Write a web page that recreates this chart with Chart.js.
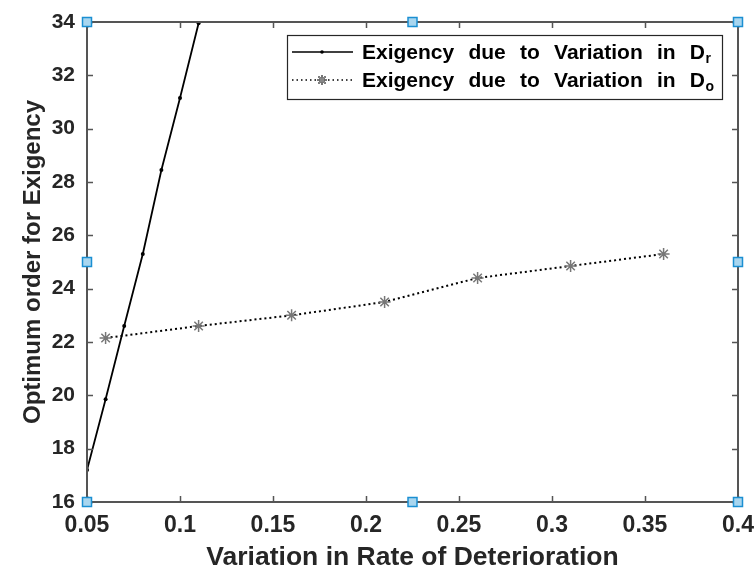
<!DOCTYPE html>
<html>
<head>
<meta charset="utf-8">
<script src="https://cdn.jsdelivr.net/npm/chart.js@4.4.1/dist/chart.umd.min.js"></script>
<style>
  body { margin: 0; background: #fff; }
  canvas { display: block; }
</style>
</head>
<body>
<canvas id="graphCanvas" width="755" height="570"></canvas>
<script>
// data
var xRate = [0.05, 0.06, 0.07, 0.08, 0.09, 0.10, 0.11];
var orderRate = [17.2, 19.85, 22.6, 25.3, 28.45, 31.15, 33.95];
var xOrdering = [0.06, 0.11, 0.16, 0.21, 0.26, 0.31, 0.36];
var orderOrdering = [22.15, 22.6, 23.0, 23.5, 24.4, 24.85, 25.3];

var xTicks = [0.05, 0.1, 0.15, 0.2, 0.25, 0.3, 0.35, 0.4];
var xTickLabels = ['0.05', '0.1', '0.15', '0.2', '0.25', '0.3', '0.35', '0.4'];
var yTicks = [16, 18, 20, 22, 24, 26, 28, 30, 32, 34];
var yTickLabels = ['16', '18', '20', '22', '24', '26', '28', '30', '32', '34'];

var legendText = ['Exigency due to Variation in D', 'Exigency due to Variation in D'];
var legendSub = ['r', 'o'];

var FONT = "'Liberation Sans', Arial, sans-serif";
var TXT = '#262626';
var AXIS = '#555555';

function toPoints(xs, ys) {
    var pts = [];
    for (var i in xs) {
        pts.push({x: xs[i], y: ys[i]});
    }
    return pts;
}

////////////////// box, inner ticks, selection handles, legend //////////////////
var framePlugin = {
    id: 'frame',
    afterDraw: function (chart) {
        var ctx = chart.ctx;
        var a = chart.chartArea;
        var xs = chart.scales.x, ys = chart.scales.y;
        ctx.save();
        ctx.strokeStyle = AXIS;
        ctx.lineWidth = 2;
        ctx.strokeRect(a.left, a.top, a.right - a.left, a.bottom - a.top);
        ctx.lineWidth = 1.5;
        ctx.beginPath();
        xTicks.forEach(function (v) {
            var px = Math.round(xs.getPixelForValue(v)) + 0.5;
            ctx.moveTo(px, a.bottom); ctx.lineTo(px, a.bottom - 6);
            ctx.moveTo(px, a.top); ctx.lineTo(px, a.top + 6);
        });
        yTicks.forEach(function (v) {
            var py = Math.round(ys.getPixelForValue(v)) + 0.5;
            ctx.moveTo(a.left, py); ctx.lineTo(a.left + 6, py);
            ctx.moveTo(a.right, py); ctx.lineTo(a.right - 6, py);
        });
        ctx.stroke();

        // legend
        var lx = 287, ly = 35, lw = 435, lh = 64;
        ctx.fillStyle = '#fff';
        ctx.fillRect(lx, ly, lw, lh);
        ctx.strokeStyle = TXT;
        ctx.lineWidth = 1.2;
        ctx.strokeRect(lx + 0.5, ly + 0.5, lw, lh);
        var rows = [52, 80];
        for (var r = 0; r < 2; r++) {
            var yy = rows[r];
            ctx.strokeStyle = '#000';
            ctx.lineWidth = 1.6;
            ctx.setLineDash(r === 0 ? [] : [1.5, 3]);
            ctx.beginPath();
            ctx.moveTo(292, yy); ctx.lineTo(353, yy);
            ctx.stroke();
            ctx.setLineDash([]);
            if (r === 0) {
                ctx.fillStyle = '#000';
                ctx.beginPath(); ctx.arc(322, yy, 1.8, 0, Math.PI * 2); ctx.fill();
            } else {
                Chart.helpers.drawPoint(ctx, {pointStyle: 'star', radius: 5, borderWidth: 1.5}, 322, yy);
                ctx.strokeStyle = '#888';
                ctx.stroke();
            }
            // justified words
            ctx.fillStyle = '#000';
            ctx.font = 'bold 21px ' + FONT;
            ctx.textBaseline = 'alphabetic';
            ctx.textAlign = 'left';
            var words = legendText[r].split(' ');
            var total = 0;
            words.forEach(function (w) { total += ctx.measureText(w).width; });
            var gap = (343 - total) / (words.length - 1);
            var cx = 362;
            words.forEach(function (w) {
                ctx.fillText(w, cx, yy + 7);
                cx += ctx.measureText(w).width + gap;
            });
            cx -= gap;
            ctx.font = 'bold 14px ' + FONT;
            ctx.fillText(legendSub[r], cx + 0.5, yy + 11);
        }

        // blue selection handles
        var mx = (a.left + a.right) / 2, my = (a.top + a.bottom) / 2;
        var handles = [[a.left, a.top], [mx, a.top], [a.right, a.top], [a.left, my],
                       [a.right, my], [a.left, a.bottom], [mx, a.bottom], [a.right, a.bottom]];
        handles.forEach(function (h) {
            ctx.fillStyle = '#a9d6ef';
            ctx.fillRect(h[0] - 4.5, h[1] - 4.5, 9, 9);
            ctx.strokeStyle = '#1b8fd2';
            ctx.lineWidth = 1.5;
            ctx.strokeRect(h[0] - 4.5, h[1] - 4.5, 9, 9);
        });
        ctx.restore();
    }
};

var chartdata = {
    datasets: [
        {
            label: 'Exigency due to Variation in Dr',
            data: toPoints(xRate, orderRate),
            showLine: true,
            borderColor: '#000',
            borderWidth: 1.8,
            pointStyle: 'circle',
            pointRadius: 2,
            pointBackgroundColor: '#000',
            pointBorderWidth: 0
        },
        {
            label: 'Exigency due to Variation in Do',
            data: toPoints(xOrdering, orderOrdering),
            showLine: true,
            borderColor: '#000',
            borderWidth: 2,
            borderDash: [2, 3],
            pointStyle: 'star',
            pointRadius: 6,
            pointBorderColor: '#777',
            pointBorderWidth: 1.5
        }
    ]
};

var graph = new Chart(document.getElementById('graphCanvas'), {
    type: 'scatter',
    data: chartdata,
    plugins: [framePlugin],
    options: {
        responsive: false,
        animation: false,
        layout: { padding: { top: 22, right: 17, left: 0, bottom: 0 } },
        plugins: { legend: { display: false }, tooltip: { enabled: false } },
        scales: {
            x: {
                type: 'linear',
                min: 0.05,
                max: 0.4,
                afterBuildTicks: function (s) { s.ticks = xTicks.map(function (v) { return {value: v}; }); },
                afterFit: function (s) { s.height = 68; s.paddingLeft = 0; s.paddingRight = 0; },
                grid: { display: false },
                border: { display: false },
                ticks: {
                    color: TXT,
                    padding: 2,
                    maxRotation: 0,
                    autoSkip: false,
                    font: { family: FONT, size: 23, weight: 'bold' },
                    callback: function (v, i) { return xTickLabels[i]; }
                },
                title: {
                    display: true,
                    text: 'Variation in Rate of Deterioration',
                    color: TXT,
                    padding: { top: 0, bottom: 0 },
                    font: { family: FONT, size: 26.5, weight: 'bold', lineHeight: 0.9 }
                }
            },
            y: {
                min: 16,
                max: 34,
                afterBuildTicks: function (s) { s.ticks = yTicks.map(function (v) { return {value: v}; }); },
                afterFit: function (s) { s.width = 87; s.paddingTop = 0; s.paddingBottom = 0; },
                grid: { display: false },
                border: { display: false },
                ticks: {
                    color: TXT,
                    padding: 4,
                    autoSkip: false,
                    font: { family: FONT, size: 21, weight: 'bold' },
                    callback: function (v, i) { return yTickLabels[i]; }
                },
                title: {
                    display: true,
                    text: 'Optimum order for Exigency',
                    color: TXT,
                    padding: { top: 21, bottom: 0 },
                    font: { family: FONT, size: 24, weight: 'bold', lineHeight: 1 }
                }
            }
        }
    }
});
</script>
</body>
</html>
